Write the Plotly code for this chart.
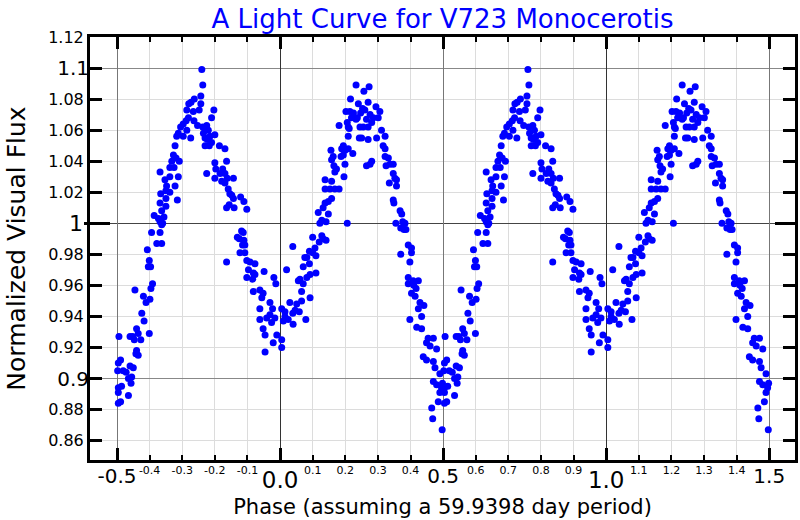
import plotly.graph_objects as go

# ---- data: one phase cycle (phase, normalized visual flux) ----
phase = [
    -0.498, -0.496, -0.489, -0.494, -0.481, -0.472, -0.460, -0.450, -0.455, -0.465,
    -0.457, -0.486, -0.496, -0.496, -0.465, -0.489, -0.496, -0.440, -0.435, -0.442,
    -0.440, -0.435, -0.460, -0.447, -0.452, -0.427, -0.424, -0.417, -0.401, -0.419,
    -0.411, -0.399, -0.445, -0.391, -0.396, -0.401, -0.404, -0.397, -0.407,
    -0.394, -0.368, -0.378, -0.363, -0.386, -0.373, -0.356, -0.368, -0.360, -0.363,
    -0.368, -0.350, -0.363, -0.315, -0.350, -0.366, -0.348, -0.322, -0.350, -0.338,
    -0.338, -0.312, -0.353, -0.368, -0.338, -0.325, -0.327, -0.319, -0.309, -0.332,
    -0.322,
    -0.305, -0.286, -0.312, -0.317, -0.274, -0.297, -0.281, -0.288, -0.264, -0.297,
    -0.286, -0.266, -0.248, -0.263, -0.273, -0.280, -0.243, -0.243, -0.237, -0.240,
    -0.253, -0.237, -0.225, -0.220, -0.235, -0.230, -0.215, -0.200, -0.223, -0.210,
    -0.230, -0.217, -0.203, -0.210, -0.225,
    -0.186, -0.169, -0.200, -0.164, -0.197, -0.176, -0.200, -0.184, -0.169, -0.162,
    -0.143, -0.179, -0.169, -0.159, -0.154, -0.148, -0.121, -0.143, -0.111, -0.164,
    -0.141, -0.156, -0.102, -0.118, -0.113, -0.131, -0.125, -0.111, -0.115, -0.108,
    -0.164,
    -0.123, -0.108, -0.102, -0.092, -0.077, -0.097, -0.082, -0.102, -0.084, -0.077,
    -0.049, -0.019, -0.013, -0.082, -0.062, -0.052, -0.056, -0.031, -0.023, -0.062,
    -0.031, -0.041, -0.016, -0.026, -0.062, -0.052, -0.046, -0.010, -0.021, -0.046,
    0.005, 0.005, 0.005, 0.015, 0.010, 0.030, 0.020, 0.015, 0.025, 0.040,
    0.051, 0.046, 0.039, 0.059, 0.079, 0.066, 0.092, 0.066, 0.061, 0.056,
    0.082, 0.071, 0.090, 0.071, 0.092, 0.039, 0.082, 0.076, 0.090, 0.100,
    0.110, 0.110, 0.100, 0.128, 0.132, 0.120, 0.141, 0.107, 0.117, 0.148,
    0.128, 0.122, 0.141, 0.158, 0.148, 0.138, 0.132, 0.138, 0.158, 0.138,
    0.153, 0.168, 0.181, 0.158, 0.165, 0.173, 0.168, 0.196, 0.156, 0.163,
    0.187, 0.194, 0.194, 0.189, 0.199, 0.181, 0.199,
    0.209, 0.223, 0.209, 0.243, 0.250, 0.270, 0.296, 0.202, 0.214, 0.225,
    0.237, 0.247, 0.276, 0.286, 0.219, 0.233, 0.206, 0.265, 0.281, 0.245,
    0.255, 0.270, 0.209, 0.212, 0.216, 0.240, 0.270, 0.253, 0.260, 0.294,
    0.233, 0.273, 0.257, 0.281, 0.265, 0.276, 0.206,
    0.306, 0.311, 0.322, 0.301, 0.316, 0.322, 0.322, 0.332, 0.325, 0.337,
    0.347, 0.347, 0.352, 0.357, 0.335, 0.357, 0.347, 0.349, 0.368, 0.373,
    0.355, 0.376, 0.383, 0.370, 0.380, 0.386, 0.393, 0.370,
    0.403, 0.403, 0.398, 0.393, 0.408, 0.424, 0.393, 0.410, 0.417, 0.403,
    0.414, 0.429, 0.441, 0.424, 0.434, 0.398, 0.419, 0.434, 0.454, 0.470,
    0.449, 0.460, 0.480, 0.439, 0.449, 0.470, 0.475, 0.490, 0.470, 0.480,
    0.498, 0.495, 0.490, 0.485, 0.465, 0.468, 0.497,
]
flux = [
    0.905, 0.910, 0.912, 0.927, 0.905, 0.904, 0.908, 0.907, 0.901, 0.900,
    0.897, 0.895, 0.894, 0.891, 0.889, 0.885, 0.884, 0.918, 0.915, 0.916,
    0.932, 0.929, 0.927, 0.925, 0.927, 0.925, 0.942, 0.937, 0.929, 0.953,
    0.949, 0.951, 0.957, 0.961, 0.958, 0.976, 0.972, 0.972, 0.983,
    0.994, 0.994, 0.987, 0.987, 1.005, 1.003, 1.004, 1.001, 1.000, 0.999,
    1.013, 1.011, 1.008, 1.015, 1.016, 1.019, 1.024, 1.024, 1.021, 1.020,
    1.030, 1.030, 1.028, 1.033, 1.036, 1.036, 1.044, 1.042, 1.040, 1.040,
    1.050,
    1.062, 1.060, 1.058, 1.056, 1.055, 1.056, 1.068, 1.066, 1.066, 1.064,
    1.073, 1.072, 1.073, 1.080, 1.078, 1.077, 1.082, 1.077, 1.089, 1.099,
    1.063, 1.062, 1.063, 1.060, 1.058, 1.055, 1.056, 1.057, 1.054, 1.052,
    1.050, 1.050, 1.073, 1.068, 1.032,
    1.050, 1.048, 1.039, 1.040, 1.035, 1.035, 1.029, 1.032, 1.032, 1.029,
    1.029, 1.027, 1.026, 1.022, 1.019, 1.018, 1.017, 1.016, 1.014, 1.010,
    1.010, 1.012, 1.009, 0.995, 0.994, 0.991, 0.990, 0.989, 0.986, 0.986,
    0.975,
    0.981, 0.981, 0.976, 0.975, 0.974, 0.970, 0.968, 0.965, 0.964, 0.967,
    0.969, 0.965, 0.961, 0.956, 0.957, 0.955, 0.952, 0.949, 0.945, 0.945,
    0.941, 0.939, 0.939, 0.936, 0.938, 0.932, 0.928, 0.928, 0.923, 0.917,
    0.945, 0.925, 0.920, 0.940, 0.937, 0.949, 0.970, 0.943, 0.938, 0.935,
    0.948, 0.944, 0.942, 0.943, 0.938, 0.956, 0.952, 0.950, 0.964, 0.963,
    0.965, 0.961, 0.974, 0.972, 0.967, 0.985, 0.978, 0.978, 0.982, 0.981,
    0.979, 0.968, 0.991, 0.992, 0.990, 0.988, 0.989, 0.984, 1.007, 1.006,
    1.002, 1.000, 1.001, 1.016, 1.014, 1.013, 1.010, 1.028, 1.027, 1.022,
    1.022, 1.022, 1.022, 1.041, 1.037, 1.035, 1.033, 1.030, 1.047, 1.043,
    1.043, 1.044, 1.050, 1.048, 1.047, 1.063, 1.038,
    1.048, 1.045, 1.056, 1.055, 1.055, 1.054, 1.055, 1.072, 1.072, 1.071,
    1.068, 1.071, 1.070, 1.068, 1.068, 1.067, 1.065, 1.067, 1.065, 1.062,
    1.062, 1.062, 1.062, 1.061, 1.080, 1.077, 1.078, 1.074, 1.073, 1.075,
    1.089, 1.088, 1.085, 1.040, 1.037, 1.038, 1.000,
    1.072, 1.060, 1.056, 1.068, 1.050, 1.048, 1.043, 1.042, 1.037, 1.038,
    1.038, 1.032, 1.029, 1.028, 1.026, 1.024, 1.015, 1.013, 1.008, 1.006,
    1.000, 1.001, 1.000, 0.997, 0.996, 0.996, 0.986, 0.980,
    0.984, 0.981, 0.975, 0.965, 0.963, 0.963, 0.961, 0.960, 0.958, 0.955,
    0.953, 0.949, 0.947, 0.945, 0.940, 0.938, 0.933, 0.932, 0.926, 0.926,
    0.923, 0.921, 0.919, 0.914, 0.912, 0.911, 0.907, 0.903, 0.898, 0.896,
    0.897, 0.894, 0.891, 0.885, 0.881, 0.874, 0.867,
]
cycle_offsets = [0, 1]   # the folded cycle is shown twice

# ---- tick labels ----
x_minor_vals = [-0.4, -0.3, -0.2, -0.1, 0.1, 0.2, 0.3, 0.4,
                0.6, 0.7, 0.8, 0.9, 1.1, 1.2, 1.3, 1.4]
x_minor_text = ["-0.4", "-0.3", "-0.2", "-0.1", "0.1", "0.2", "0.3", "0.4",
                "0.6", "0.7", "0.8", "0.9", "1.1", "1.2", "1.3", "1.4"]
x_half_vals = [-0.5, 0.5, 1.5]
x_half_text = ["-0.5", "0.5", "1.5"]
x_int_vals = [0.0, 1.0]
x_int_text = ["0.0", "1.0"]

y_minor_vals = [0.86, 0.88, 0.92, 0.94, 0.96, 0.98, 1.02, 1.04, 1.06, 1.08, 1.12]
y_minor_text = ["0.86", "0.88", "0.92", "0.94", "0.96", "0.98",
                "1.02", "1.04", "1.06", "1.08", "1.12"]
y_tenth_vals = [0.9, 1.1]
y_tenth_text = ["0.9", "1.1"]
y_one_vals = [1.0]
y_one_text = ["1"]

FONT = "DejaVu Sans"
X_RANGE = [-0.5828, 1.5789]
Y_RANGE = [0.8475, 1.12]

xs, ys = [], []
for off in cycle_offsets:
    xs += [p + off for p in phase]
    ys += list(flux)

fig = go.Figure()
# empty helper traces so that the overlaid label axes get drawn
for xa, ya in [("x2", "y"), ("x3", "y"), ("x", "y2"), ("x", "y3"), ("x", "y4")]:
    fig.add_trace(go.Scatter(x=[], y=[], xaxis=xa, yaxis=ya, mode="markers",
                             hoverinfo="skip", showlegend=False))
fig.add_trace(go.Scatter(
    x=xs, y=ys, mode="markers",
    marker=dict(color="#0000ff", size=7, line=dict(width=0)),
    hoverinfo="skip", showlegend=False,
))

common_x = dict(range=X_RANGE, ticks="inside", tickcolor="black", showgrid=True,
                zeroline=False, mirror="ticks", fixedrange=True, automargin=False)
common_y = dict(range=Y_RANGE, ticks="inside", tickcolor="black", showgrid=True,
                zeroline=False, mirror="ticks", fixedrange=True, automargin=False)

fig.update_layout(
    width=800, height=520,
    margin=dict(l=90, r=5, t=37, b=60, autoexpand=False),
    paper_bgcolor="white", plot_bgcolor="white",
    font=dict(family=FONT, color="black"),
    title=dict(text="A Light Curve for V723 Monocerotis", xref="paper", x=0.5,
               xanchor="center", yref="container", y=0.963, yanchor="middle",
               font=dict(family=FONT, size=26, color="#0000ff")),
    xaxis=dict(**common_x, tickmode="array", tickvals=x_minor_vals, ticktext=x_minor_text,
               tickfont=dict(size=11), ticklen=5, tickwidth=2, ticklabelstandoff=-2,
               gridcolor="#dcdcdc", gridwidth=1,
               showline=True, linecolor="black", linewidth=3,
               title=dict(text="Phase (assuming a 59.9398 day period)",
                          font=dict(size=21), standoff=24)),
    xaxis2=dict(**common_x, overlaying="x", anchor="y", side="bottom",
                tickmode="array", tickvals=x_half_vals, ticktext=x_half_text,
                tickfont=dict(size=20), ticklen=12, tickwidth=3, ticklabelstandoff=2,
                gridcolor="#777777", gridwidth=1, showline=False),
    xaxis3=dict(**common_x, overlaying="x", anchor="y", side="bottom",
                tickmode="array", tickvals=x_int_vals, ticktext=x_int_text,
                tickfont=dict(size=23), ticklen=12, tickwidth=3, ticklabelstandoff=4,
                gridcolor="#333333", gridwidth=1, showline=False),
    yaxis=dict(**common_y, tickmode="array", tickvals=y_minor_vals, ticktext=y_minor_text,
               tickfont=dict(size=16), ticklen=12, tickwidth=3,
               gridcolor="#dcdcdc", gridwidth=1,
               showline=True, linecolor="black", linewidth=3,
               title=dict(text="Normalized Visual Flux", font=dict(size=25), standoff=16)),
    yaxis2=dict(**common_y, overlaying="y", anchor="x", side="left",
                tickmode="array", tickvals=y_tenth_vals, ticktext=y_tenth_text,
                tickfont=dict(size=20), ticklen=12, tickwidth=3,
                gridcolor="#888888", gridwidth=1, showline=False),
    yaxis3=dict(**common_y, overlaying="y", anchor="x", side="left",
                tickmode="array", tickvals=y_one_vals, ticktext=y_one_text,
                tickfont=dict(size=22), ticklen=20, tickwidth=3, ticklabelstandoff=6,
                gridcolor="#444444", gridwidth=1, showline=False),
    yaxis4=dict(range=Y_RANGE, overlaying="y", anchor="x", side="left",
                tickmode="array", tickvals=y_one_vals, ticks="outside", ticklen=5,
                tickwidth=3, tickcolor="black", showticklabels=False, showgrid=False,
                zeroline=False, showline=False, fixedrange=True, automargin=False),
)

fig.write_html("out.html", config={"displayModeBar": False},
               post_script="document.body.style.margin='0px';")
